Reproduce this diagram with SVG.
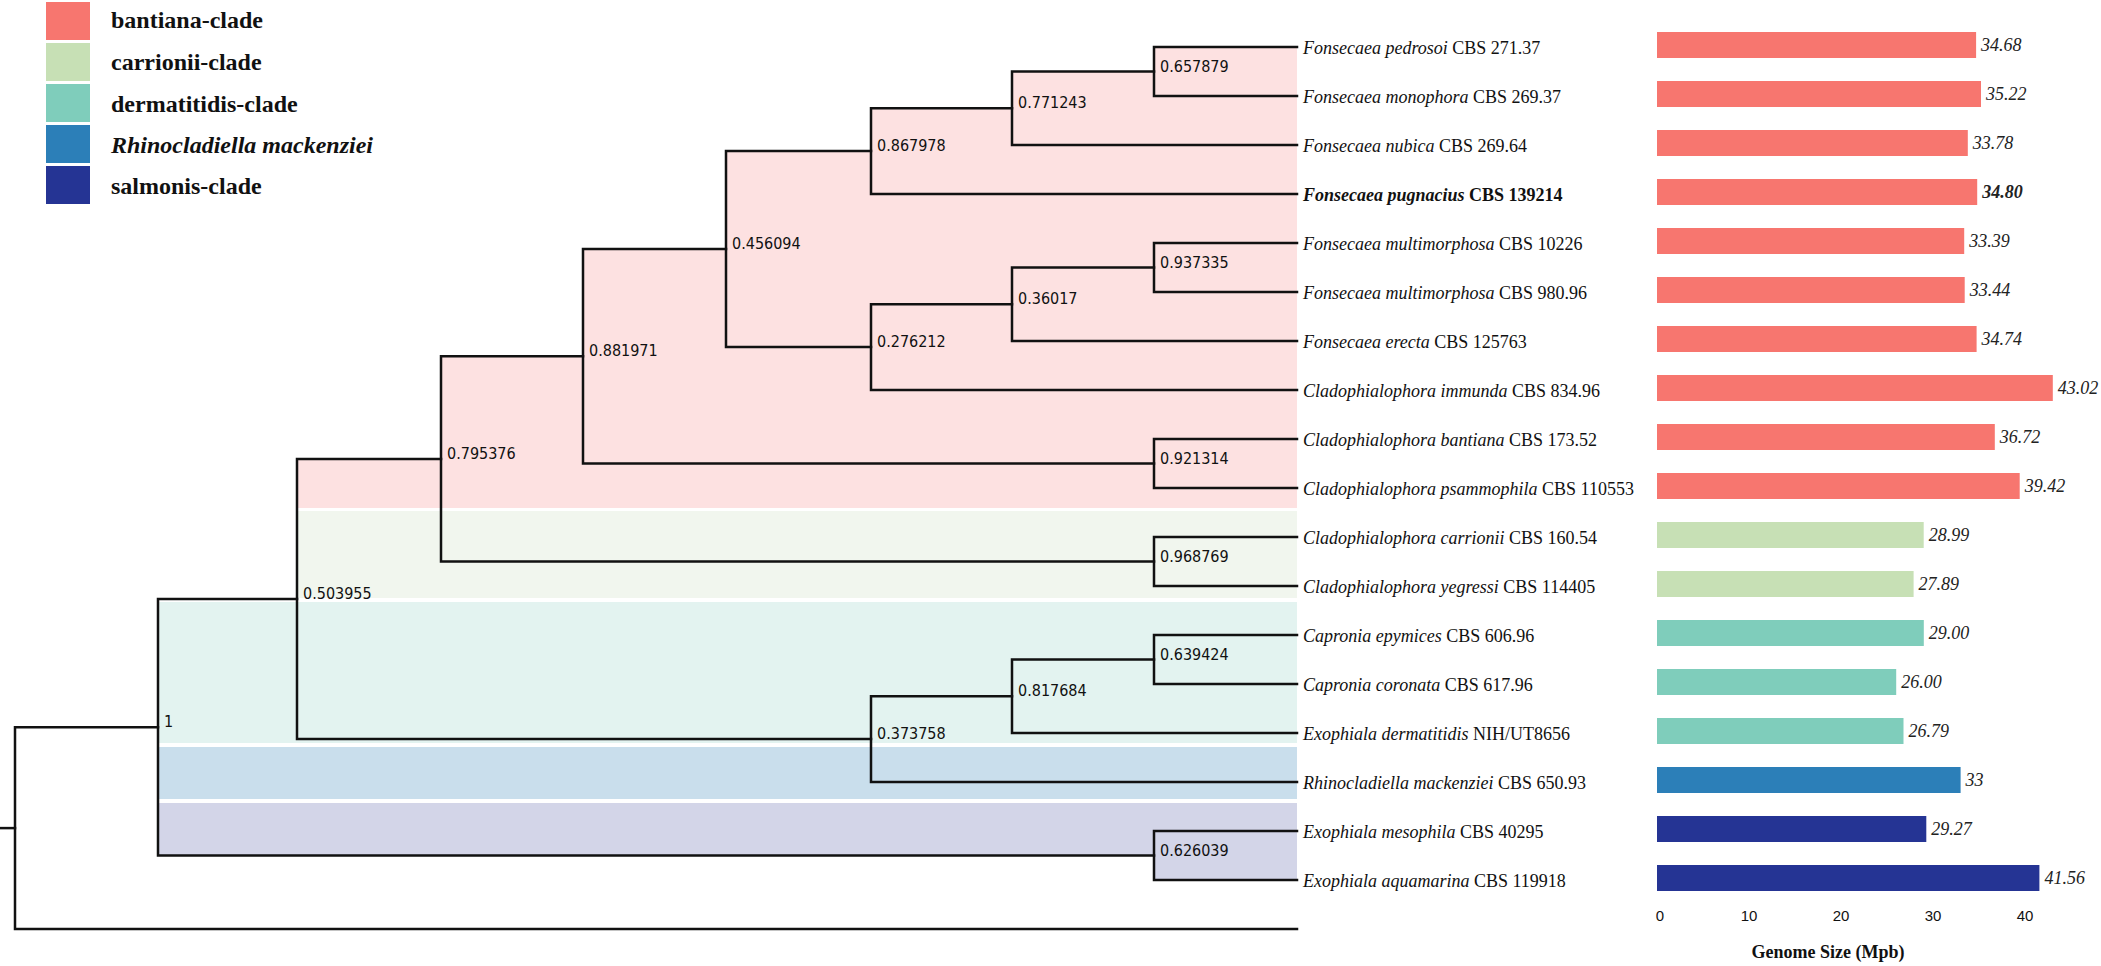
<svg xmlns="http://www.w3.org/2000/svg" width="2101" height="966" viewBox="0 0 2101 966">
<style>
.br{fill:none;stroke:#111;stroke-width:2.5;stroke-linecap:square}
.sup{font-family:"DejaVu Sans Condensed","DejaVu Sans",sans-serif;font-stretch:condensed;font-size:16px;fill:#111}
.sp{font-family:"Liberation Serif","Times New Roman",serif;font-size:18px;fill:#111}
.it{font-style:italic}
.val{font-family:"Liberation Serif","Times New Roman",serif;font-style:italic;font-size:18px;fill:#222}
.lg{font-family:"Liberation Serif","Times New Roman",serif;font-weight:bold;font-size:24px;fill:#111}
.ax{font-family:"Liberation Sans",Arial,sans-serif;font-size:15px;fill:#111;text-anchor:middle}
.c1{fill:#f7766f}.c2{fill:#c7e0b5}.c3{fill:#7fcdbb}.c4{fill:#2c7fb8}.c5{fill:#253494}
</style>
<rect width="2101" height="966" fill="#fff"/>
<g id="clade-shading">
<path fill="#fde1e1" d="M297,508 V459 H441 V356.3 H583 V249.1 H726 V151.1 H871 V108.3 H1012 V71.5 H1154 V47 H1297 V508 Z"/>
<path fill="#f1f6ee" d="M297,511 H1297 V598 H297 Z"/>
<path fill="#e3f3f0" d="M158,602 H1297 V743 H158 Z"/>
<path fill="#c9deec" d="M158,747 H1297 V799 H158 Z"/>
<path fill="#d3d5e8" d="M158,803 H1297 V880 H1154 V855.5 H158 Z"/>
</g>
<g id="legend">
<rect class="c1" x="46" y="2" width="44" height="38"/>
<rect class="c2" x="46" y="43" width="44" height="38"/>
<rect class="c3" x="46" y="84" width="44" height="38"/>
<rect class="c4" x="46" y="125" width="44" height="38"/>
<rect class="c5" x="46" y="166" width="44" height="38"/>
<text class="lg" x="111" y="28">bantiana-clade</text>
<text class="lg" x="111" y="70">carrionii-clade</text>
<text class="lg" x="111" y="112">dermatitidis-clade</text>
<text class="lg" x="111" y="153" font-style="italic">Rhinocladiella mackenziei</text>
<text class="lg" x="111" y="194">salmonis-clade</text>
</g>
<g id="connectors">
<path class="br" d="M0,828.1 H15"/>
<path class="br" d="M1297,47 H1154 V96 H1297"/>
<path class="br" d="M1154,71.5 H1012 V145 H1297"/>
<path class="br" d="M1012,108.3 H871 V194 H1297"/>
<path class="br" d="M1297,243 H1154 V292 H1297"/>
<path class="br" d="M1154,267.5 H1012 V341 H1297"/>
<path class="br" d="M1012,304.3 H871 V390 H1297"/>
<path class="br" d="M871,151.1 H726 V347.1 H871"/>
<path class="br" d="M1297,439 H1154 V488 H1297"/>
<path class="br" d="M726,249.1 H583 V463.5 H1154"/>
<path class="br" d="M1297,537 H1154 V586 H1297"/>
<path class="br" d="M583,356.3 H441 V561.5 H1154"/>
<path class="br" d="M1297,635 H1154 V684 H1297"/>
<path class="br" d="M1154,659.5 H1012 V733 H1297"/>
<path class="br" d="M1012,696.3 H871 V782 H1297"/>
<path class="br" d="M441,458.9 H297 V739.1 H871"/>
<path class="br" d="M1297,831 H1154 V880 H1297"/>
<path class="br" d="M297,599 H158 V855.5 H1154"/>
<path class="br" d="M158,727.3 H15 V929 H1297"/>
</g>
<g id="internal-nodes">
<g id="n-657879"><text class="sup" x="1160" y="71.5">0.657879</text></g>
<g id="n-771243"><text class="sup" x="1018" y="108.3">0.771243</text></g>
<g id="n-867978"><text class="sup" x="877" y="151.1">0.867978</text></g>
<g id="n-937335"><text class="sup" x="1160" y="267.5">0.937335</text></g>
<g id="n-36017"><text class="sup" x="1018" y="304.3">0.36017</text></g>
<g id="n-276212"><text class="sup" x="877" y="347.1">0.276212</text></g>
<g id="n-456094"><text class="sup" x="732" y="249.1">0.456094</text></g>
<g id="n-921314"><text class="sup" x="1160" y="463.5">0.921314</text></g>
<g id="n-881971"><text class="sup" x="589" y="356.3">0.881971</text></g>
<g id="n-968769"><text class="sup" x="1160" y="561.5">0.968769</text></g>
<g id="n-795376"><text class="sup" x="447" y="458.9">0.795376</text></g>
<g id="n-639424"><text class="sup" x="1160" y="659.5">0.639424</text></g>
<g id="n-817684"><text class="sup" x="1018" y="696.3">0.817684</text></g>
<g id="n-373758"><text class="sup" x="877" y="739.1">0.373758</text></g>
<g id="n-503955"><text class="sup" x="303" y="599">0.503955</text></g>
<g id="n-626039"><text class="sup" x="1160" y="855.5">0.626039</text></g>
<g id="n-1"><text class="sup" x="164" y="727.3">1</text></g>
</g>
<g id="tips">
<g id="tip-pedrosoi"><text class="sp" x="1303" y="53.5"><tspan class="it">Fonsecaea pedrosoi</tspan> CBS 271.37</text><rect class="c1" x="1657" y="32" width="319.1" height="26"/><text class="val" x="1981.1" y="51">34.68</text></g>
<g id="tip-monophora"><text class="sp" x="1303" y="102.5"><tspan class="it">Fonsecaea monophora</tspan> CBS 269.37</text><rect class="c1" x="1657" y="81" width="324" height="26"/><text class="val" x="1986" y="100">35.22</text></g>
<g id="tip-nubica"><text class="sp" x="1303" y="151.5"><tspan class="it">Fonsecaea nubica</tspan> CBS 269.64</text><rect class="c1" x="1657" y="130" width="310.8" height="26"/><text class="val" x="1972.8" y="149">33.78</text></g>
<g id="tip-pugnacius"><text class="sp" x="1303" y="200.5" font-weight="bold"><tspan class="it">Fonsecaea pugnacius</tspan> CBS 139214</text><rect class="c1" x="1657" y="179" width="320.2" height="26"/><text class="val" x="1982.2" y="198" font-weight="bold">34.80</text></g>
<g id="tip-multimorphosa-10226"><text class="sp" x="1303" y="249.5"><tspan class="it">Fonsecaea multimorphosa</tspan> CBS 10226</text><rect class="c1" x="1657" y="228" width="307.2" height="26"/><text class="val" x="1969.2" y="247">33.39</text></g>
<g id="tip-multimorphosa-98096"><text class="sp" x="1303" y="298.5"><tspan class="it">Fonsecaea multimorphosa</tspan> CBS 980.96</text><rect class="c1" x="1657" y="277" width="307.7" height="26"/><text class="val" x="1969.7" y="296">33.44</text></g>
<g id="tip-erecta"><text class="sp" x="1303" y="347.5"><tspan class="it">Fonsecaea erecta</tspan> CBS 125763</text><rect class="c1" x="1657" y="326" width="319.6" height="26"/><text class="val" x="1981.6" y="345">34.74</text></g>
<g id="tip-immunda"><text class="sp" x="1303" y="396.5"><tspan class="it">Cladophialophora immunda</tspan> CBS 834.96</text><rect class="c1" x="1657" y="375" width="395.8" height="26"/><text class="val" x="2057.8" y="394">43.02</text></g>
<g id="tip-bantiana"><text class="sp" x="1303" y="445.5"><tspan class="it">Cladophialophora bantiana</tspan> CBS 173.52</text><rect class="c1" x="1657" y="424" width="337.8" height="26"/><text class="val" x="1999.8" y="443">36.72</text></g>
<g id="tip-psammophila"><text class="sp" x="1303" y="494.5"><tspan class="it">Cladophialophora psammophila</tspan> CBS 110553</text><rect class="c1" x="1657" y="473" width="362.7" height="26"/><text class="val" x="2024.7" y="492">39.42</text></g>
<g id="tip-carrionii"><text class="sp" x="1303" y="543.5"><tspan class="it">Cladophialophora carrionii</tspan> CBS 160.54</text><rect class="c2" x="1657" y="522" width="266.7" height="26"/><text class="val" x="1928.7" y="541">28.99</text></g>
<g id="tip-yegressi"><text class="sp" x="1303" y="592.5"><tspan class="it">Cladophialophora yegressi</tspan> CBS 114405</text><rect class="c2" x="1657" y="571" width="256.6" height="26"/><text class="val" x="1918.6" y="590">27.89</text></g>
<g id="tip-epymices"><text class="sp" x="1303" y="641.5"><tspan class="it">Capronia epymices</tspan> CBS 606.96</text><rect class="c3" x="1657" y="620" width="266.8" height="26"/><text class="val" x="1928.8" y="639">29.00</text></g>
<g id="tip-coronata"><text class="sp" x="1303" y="690.5"><tspan class="it">Capronia coronata</tspan> CBS 617.96</text><rect class="c3" x="1657" y="669" width="239.2" height="26"/><text class="val" x="1901.2" y="688">26.00</text></g>
<g id="tip-dermatitidis"><text class="sp" x="1303" y="739.5"><tspan class="it">Exophiala dermatitidis</tspan> NIH/UT8656</text><rect class="c3" x="1657" y="718" width="246.5" height="26"/><text class="val" x="1908.5" y="737">26.79</text></g>
<g id="tip-mackenziei"><text class="sp" x="1303" y="788.5"><tspan class="it">Rhinocladiella mackenziei</tspan> CBS 650.93</text><rect class="c4" x="1657" y="767" width="303.6" height="26"/><text class="val" x="1965.6" y="786">33</text></g>
<g id="tip-mesophila"><text class="sp" x="1303" y="837.5"><tspan class="it">Exophiala mesophila</tspan> CBS 40295</text><rect class="c5" x="1657" y="816" width="269.3" height="26"/><text class="val" x="1931.3" y="835">29.27</text></g>
<g id="tip-aquamarina"><text class="sp" x="1303" y="886.5"><tspan class="it">Exophiala aquamarina</tspan> CBS 119918</text><rect class="c5" x="1657" y="865" width="382.4" height="26"/><text class="val" x="2044.4" y="884">41.56</text></g>
</g>
<g id="axis">
<text class="ax" x="1660" y="921">0</text>
<text class="ax" x="1749" y="921">10</text>
<text class="ax" x="1841" y="921">20</text>
<text class="ax" x="1933" y="921">30</text>
<text class="ax" x="2025" y="921">40</text>
<text x="1828" y="958" text-anchor="middle" font-family="'Liberation Serif','Times New Roman',serif" font-weight="bold" font-size="18" fill="#111">Genome Size (Mpb)</text>
</g>
</svg>
